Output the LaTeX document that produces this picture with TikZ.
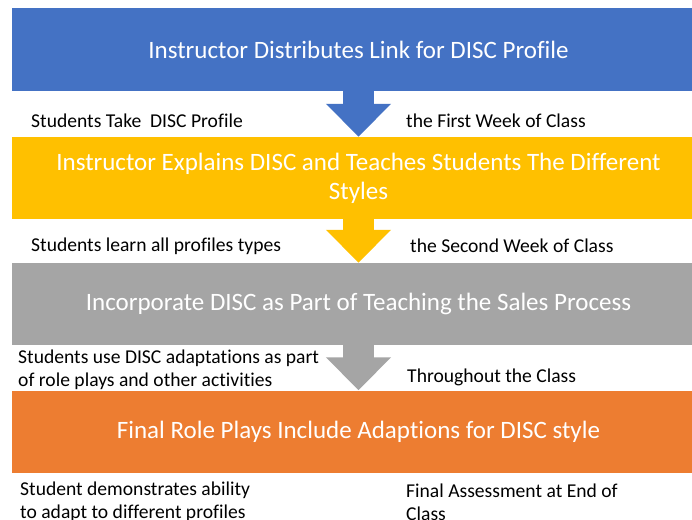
\documentclass[tikz,border=0pt]{standalone}
\usepackage{fontspec}
\setmainfont[Ligatures={NoCommon}]{Carlito}
\usetikzlibrary{arrows.meta}

\definecolor{discblue}{HTML}{4472C4}
\definecolor{discyellow}{HTML}{FFC000}
\definecolor{discgray}{HTML}{A5A5A5}
\definecolor{discorange}{HTML}{ED7D31}

\tikzset{
  stagebox/.style={fill=#1, text=white, minimum width=693pt, minimum height=82pt,
    inner sep=0pt, align=center, font=\fontsize{25}{29}\selectfont},
  flowarrow/.style={draw=#1, line width=31pt, -{Triangle[length=33pt,width=63pt,fill=#1]}},
  note/.style={anchor=west, align=left, inner sep=0pt, font=\fontsize{19.6}{23}\selectfont}
}

\begin{document}
\begin{tikzpicture}[x=1pt,y=-1pt]
            \fill[white] (0,0) rectangle (692,519);
            \useasboundingbox (0,0) rectangle (692,519);

            \node[stagebox=discblue] (A) at (358.5, 49.5) {Instructor Distributes Link for DISC Profile};
            \node[stagebox=discyellow] (B) at (358.5, 178) {Instructor Explains DISC and Teaches Students The Different\\ Styles};
            \node[stagebox=discgray] (C) at (358.5, 304) {Incorporate DISC as Part of Teaching the Sales Process};
            \node[stagebox=discorange] (D) at (358.5, 431.5) {Final Role Plays Include Adaptions for DISC style};

            \node[note] (A1) at (31, 121) {Students Take~ DISC Profile};
            \node[note] (A2) at (406, 121) {the First Week of Class};
            \node[note] (B1) at (31, 246) {Students learn all profiles types};
            \node[note] (B2) at (410, 246) {the Second Week of Class};
            \node[note] (C1) at (18, 370) {Students use DISC adaptations as part\\ of role plays and other activities};
            \node[note] (C2) at (407, 377) {Throughout the Class};
            \node[note] (D1) at (20, 502) {Student demonstrates ability\\ to adapt to different profiles};
            \node[note] (D2) at (406, 502) {Final Assessment at End of\\ Class};

            \draw[flowarrow=discblue] (A.south) to (B.north);
            \draw[flowarrow=discyellow] (B.south) to (C.north);
            \draw[flowarrow=discgray] (C.south) to (D.north);
        \end{tikzpicture}
\end{document}
